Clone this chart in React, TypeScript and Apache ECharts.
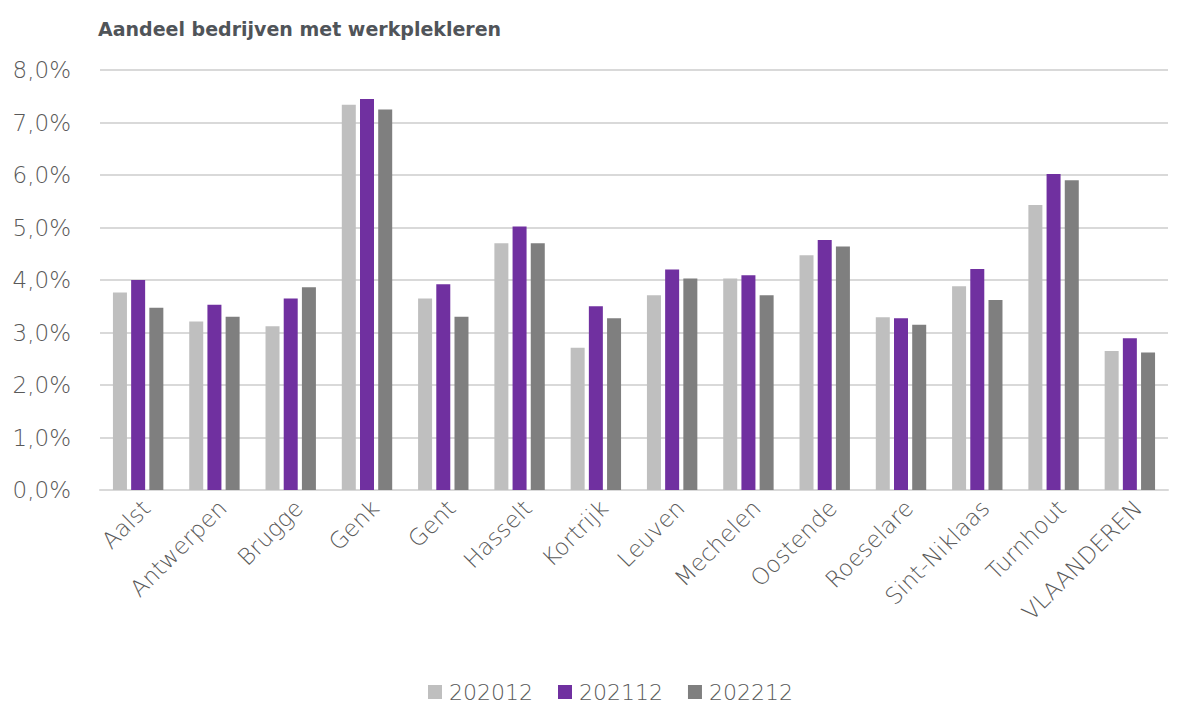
import React, { useEffect, useRef } from "react";
import * as echarts from "echarts";

const categories = ["Aalst", "Antwerpen", "Brugge", "Genk", "Gent", "Hasselt", "Kortrijk", "Leuven", "Mechelen", "Oostende", "Roeselare", "Sint-Niklaas", "Turnhout", "VLAANDEREN"];
const s2020 = [3.76, 3.21, 3.12, 7.34, 3.65, 4.70, 2.71, 3.71, 4.03, 4.47, 3.29, 3.88, 5.43, 2.65];
const s2021 = [4.00, 3.53, 3.65, 7.45, 3.92, 5.02, 3.50, 4.20, 4.09, 4.76, 3.27, 4.21, 6.02, 2.89];
const s2022 = [3.47, 3.30, 3.86, 7.25, 3.30, 4.70, 3.27, 4.03, 3.71, 4.64, 3.15, 3.62, 5.90, 2.62];
const seriesNames = ["202012", "202112", "202212"];
const colors = ["#bfbfbf", "#7030a0", "#7f7f7f"];
const title = "Aandeel bedrijven met werkplekleren";

export default function App() {
  const ref = useRef<HTMLDivElement>(null);
  useEffect(() => {
    if (!ref.current) return;
    const chart = echarts.init(ref.current, undefined, { renderer: "svg" });
    const font = "'DejaVu Sans ExtraLight', 'DejaVu Sans Light', Roboto";
    const data = [s2020, s2021, s2022];
    chart.setOption({
      animation: false,
      title: {
        text: title,
        left: 93,
        top: 14,
        textStyle: { fontFamily: "DejaVu Sans", fontSize: 19, fontWeight: "bold", color: "#505459" },
      },
      legend: {
        bottom: 0,
        left: 423,
        itemWidth: 14,
        itemHeight: 14,
        itemGap: 25,
        icon: "rect",
        textStyle: { fontFamily: font, fontWeight: 200, fontSize: 22, color: "#595959", padding: [0, 0, 0, 2] },
        data: seriesNames,
      },
      grid: { left: 100, right: 12, top: 70, bottom: 218, containLabel: false },
      xAxis: {
        type: "category",
        data: categories,
        axisLine: { lineStyle: { color: "#d9d9d9", width: 2 } },
        axisTick: { show: false },
        axisLabel: {
          rotate: 45,
          interval: 0,
          margin: 6,
          verticalAlign: "top",
          fontFamily: font,
          fontWeight: 200,
          fontSize: 23,
          color: "#595959",
        },
      },
      yAxis: {
        type: "value",
        min: 0,
        max: 8,
        interval: 1,
        axisLine: { show: false },
        axisTick: { show: false },
        splitLine: { lineStyle: { color: "#d9d9d9", width: 2 } },
        axisLabel: {
          margin: 29,
          fontFamily: font,
          fontWeight: 200,
          fontSize: 23,
          color: "#595959",
          formatter: (v: number) => v.toFixed(1).replace(".", ",") + "%",
        },
      },
      series: seriesNames.map((n, i) => ({
        name: n,
        type: "bar",
        data: data[i],
        barWidth: 14,
        barGap: "30%",
        itemStyle: { color: colors[i] },
      })),
    });
    return () => chart.dispose();
  }, []);
  return <div ref={ref} style={{ width: 1180, height: 708, position: "absolute", left: 0, top: 0 }} />;
}
